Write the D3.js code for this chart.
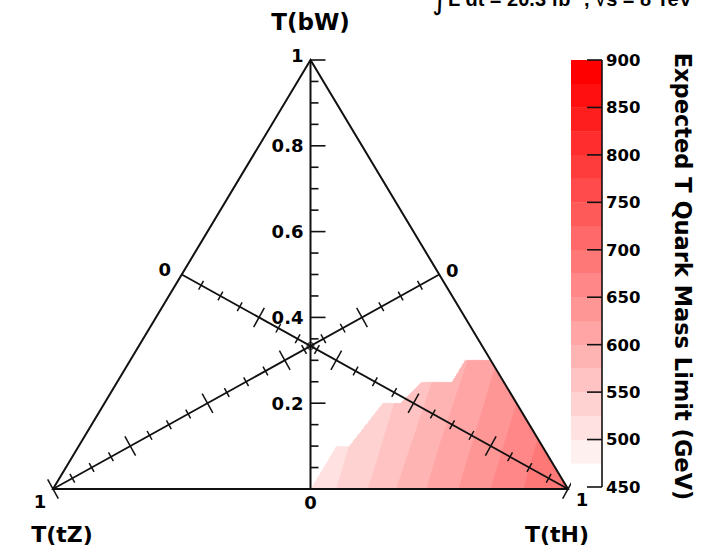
<!DOCTYPE html>
<html>
<head>
<meta charset="utf-8">
<script src="https://cdn.jsdelivr.net/npm/d3@7"></script>
<style>
  html, body { margin: 0; padding: 0; background: #fff; }
  svg { display: block; }
  text { font-family: "DejaVu Sans", sans-serif; font-weight: bold; fill: #000; }
</style>
</head>
<body>
<svg id="chart" width="708" height="552"></svg>
<script>
// Expected T-quark mass limit over the branching-fraction plane.
// Rows: BR(T->bW); columns: BR(T->tH); BR(T->tZ) = 1 - bW - tH.
const bwGrid = [0, 0.1, 0.2, 0.3];
const thGrid = [0.5, 0.6, 0.7, 0.8, 0.9, 1.0];
const limitRows = [
  [505, 545, 590, 630, 670, 705],
  [515, 555, 600, 640, 680, null],
  [525, 565, 610, 650, null, null],
  [535, 575, 620, null, null, null]
];
// Outline of the scanned region, as [BR(bW), BR(tH)] pairs
const coverage = [
  [0, 0.5], [0.1, 0.5], [0.1, 0.525], [0.2, 0.54], [0.2, 0.575],
  [0.25, 0.59], [0.25, 0.65], [0.3, 0.65], [0.3, 0.7], [0, 1]
];

const bwTicks = d3.range(1, 21).map(i => i * 0.05);       // 0.05 ... 1
const bwMajorLabels = ["0", "0.2", "0.4", "0.6", "0.8", "1"];
const diagTicks = d3.range(1, 21).map(i => i * 0.05);
const zTicks = [450, 500, 550, 600, 650, 700, 750, 800, 850, 900];
const zLevels = d3.range(450, 900, 25);                    // colour bands
const titleBW = "T(bW)", titleTZ = "T(tZ)", titleTH = "T(tH)";
const zTitle = "Expected T Quark Mass Limit (GeV)";
const lumiText = "L dt = 20.3 fb\u207B\u00B9, \u221As = 8 TeV";

const svg = d3.select("#chart");

// Ternary layout: bW sets the height, (tH - tZ) the horizontal position
const y = d3.scaleLinear().domain([0, 1]).range([489, 60]);
const x = d3.scaleLinear().domain([-1, 1]).range([53, 568]);
const proj = (bW, tH) => { const tZ = 1 - bW - tH; return [x(tH - tZ), y(bW)]; };

const z = d3.scaleLinear().domain([450, 900]).range([487, 60]);
const bandColor = v => d3.interpolateRgb("#ffffff", "#ff0000")((v - 450) / (875 - 450));

// ---- limit surface (linear interpolation on the ternary grid) ----
const dBW = bwGrid[1] - bwGrid[0], dTH = thGrid[1] - thGrid[0];
function gridVal(i, j) {
  const r = limitRows[i];
  if (!r) return NaN;
  const v = r[j];
  return (v === null || v === undefined) ? NaN : v;
}
function limitAt(bW, tH) {
  const a = (bW - bwGrid[0]) / dBW, b = (tH - thGrid[0]) / dTH;
  const i = Math.max(0, Math.min(bwGrid.length - 2, Math.floor(a)));
  const j = Math.max(0, Math.min(thGrid.length - 2, Math.floor(b)));
  const fa = a - i, fb = b - j;
  if (fa + fb <= 1) {
    const v0 = gridVal(i, j);
    return v0 + fa * (gridVal(i + 1, j) - v0) + fb * (gridVal(i, j + 1) - v0);
  }
  const v3 = gridVal(i + 1, j + 1);
  return v3 + (1 - fa) * (gridVal(i, j + 1) - v3) + (1 - fb) * (gridVal(i + 1, j) - v3);
}

const gx0 = Math.floor(x(-1)), gx1 = Math.ceil(x(1));
const gy0 = Math.floor(y(1)), gy1 = Math.ceil(y(0));
const W = gx1 - gx0, H = gy1 - gy0;
const values = new Float64Array(W * H);
for (let r = 0; r < H; r++) {
  for (let c = 0; c < W; c++) {
    const px = gx0 + c + 0.5, py = gy0 + r + 0.5;
    const bW = y.invert(py);
    const d = x.invert(px);
    const tH = (1 - bW + d) / 2, tZ = 1 - bW - tH;
    let v = -1;
    if (bW >= 0 && tH >= 0 && tZ >= 0 && d3.polygonContains(coverage, [bW, tH])) {
      const lv = limitAt(bW, tH);
      if (!isNaN(lv)) v = lv;
    }
    values[r * W + c] = v;
  }
}
const bands = d3.contours().size([W, H]).thresholds(zLevels)(values);
svg.append("g")
  .attr("transform", `translate(${gx0},${gy0})`)
  .selectAll("path").data(bands).join("path")
  .attr("d", d3.geoPath())
  .attr("fill", d => bandColor(d.value))
  .attr("stroke", d => bandColor(d.value))
  .attr("stroke-width", 0.4);

// ---- triangle frame ----
const A = proj(1, 0), B = proj(0, 0), C = proj(0, 1);
svg.append("path")
  .attr("d", d3.line()([A, B, C, A]) + "Z")
  .attr("fill", "none").attr("stroke", "#111").attr("stroke-width", 2)
  .attr("stroke-linejoin", "miter");

// ---- bW axis (vertical) ----
const axX = x(0);
svg.append("line").attr("x1", axX).attr("x2", axX).attr("y1", y(0)).attr("y2", y(1))
  .attr("stroke", "#111").attr("stroke-width", 2);
svg.append("g").selectAll("line").data(bwTicks).join("line")
  .attr("x1", axX).attr("y1", d => y(d)).attr("y2", d => y(d))
  .attr("x2", (d, i) => axX + ((i + 1) % 4 === 0 ? 15 : 8))
  .attr("stroke", "#111").attr("stroke-width", 1.6);
bwMajorLabels.forEach((lab, k) => {
  const v = k * 0.2;
  if (k === 0) {
    svg.append("text").attr("x", axX).attr("y", y(0) + 14).attr("dy", "0.35em")
      .attr("text-anchor", "middle").attr("font-size", 18).text(lab);
  } else {
    svg.append("text").attr("x", axX - 7).attr("y", y(v) - (k === 5 ? 4 : 0)).attr("dy", "0.36em")
      .attr("text-anchor", "end").attr("font-size", 18).text(lab);
  }
});

// ---- tH and tZ axes (medians) with ticks ----
function medianAxis(p0, p1) {
  const g = svg.append("g");
  g.append("line").attr("x1", p0[0]).attr("y1", p0[1]).attr("x2", p1[0]).attr("y2", p1[1])
    .attr("stroke", "#111").attr("stroke-width", 1.8);
  const dx = p1[0] - p0[0], dy = p1[1] - p0[1], len = Math.hypot(dx, dy);
  const nx = -dy / len, ny = dx / len;
  g.selectAll("line.tk").data(diagTicks).join("line").attr("class", "tk")
    .each(function (t, i) {
      const half = (i + 1) % 4 === 0 ? 11 : 5;
      const cx = p0[0] + t * dx, cy = p0[1] + t * dy;
      d3.select(this)
        .attr("x1", cx - nx * half).attr("y1", cy - ny * half)
        .attr("x2", cx + nx * half).attr("y2", cy + ny * half);
    })
    .attr("stroke", "#111").attr("stroke-width", 1.5);
}
const thStart = proj(0.5, 0), thEnd = proj(0, 1);     // tH: 0 -> 1
const tzStart = proj(0.5, 0.5), tzEnd = proj(0, 0);   // tZ: 0 -> 1
medianAxis(thStart, thEnd);
medianAxis(tzStart, tzEnd);

// centre marker
const ctr = proj(1 / 3, 1 / 3);
svg.append("circle").attr("cx", ctr[0]).attr("cy", ctr[1]).attr("r", 3.5)
  .attr("fill", "none").attr("stroke", "#111").attr("stroke-width", 1);
svg.append("circle").attr("cx", ctr[0]).attr("cy", ctr[1]).attr("r", 1.6).attr("fill", "#111");

// end labels of the median axes
const endLabels = [
  { p: thStart, dx: -17, dy: -5, t: "0" },
  { p: tzStart, dx: 13, dy: -4, t: "0" },
  { p: tzEnd, dx: -13, dy: 13, t: "1" },
  { p: thEnd, dx: 14, dy: 11, t: "1" }
];
svg.append("g").selectAll("text").data(endLabels).join("text")
  .attr("x", d => d.p[0] + d.dx).attr("y", d => d.p[1] + d.dy).attr("dy", "0.36em")
  .attr("text-anchor", "middle").attr("font-size", 18).text(d => d.t);

// axis titles
svg.append("text").attr("x", A[0]).attr("y", 30).attr("text-anchor", "middle")
  .attr("font-size", 23).text(titleBW);
svg.append("text").attr("x", B[0] + 9).attr("y", 542).attr("text-anchor", "middle")
  .attr("font-size", 22).text(titleTZ);
svg.append("text").attr("x", C[0] - 11).attr("y", 542).attr("text-anchor", "middle")
  .attr("font-size", 22).text(titleTH);

// ---- colour bar ----
const cbX = 571, cbW = 31;
svg.append("g").selectAll("rect").data(zLevels).join("rect")
  .attr("x", cbX).attr("width", cbW)
  .attr("y", d => z(d + 25)).attr("height", d => z(d) - z(d + 25) + 0.3)
  .attr("fill", d => bandColor(d));
const cbAxX = cbX + cbW;
svg.append("line").attr("x1", cbAxX).attr("x2", cbAxX).attr("y1", z(450)).attr("y2", z(900))
  .attr("stroke", "#111").attr("stroke-width", 1.6);
svg.append("g").selectAll("line").data(zTicks).join("line")
  .attr("x1", cbAxX - 15).attr("x2", cbAxX).attr("y1", d => z(d)).attr("y2", d => z(d))
  .attr("stroke", "#111").attr("stroke-width", 1.6);
svg.append("g").selectAll("text").data(zTicks).join("text")
  .attr("x", cbAxX + 4).attr("y", d => z(d)).attr("dy", "0.36em")
  .attr("font-size", 16.5).text(d => d);
svg.append("text").attr("transform", `translate(683,${(z(450) + z(900)) / 2 + 3}) rotate(90)`)
  .attr("text-anchor", "middle").attr("dy", "0.35em").attr("font-size", 22.5).text(zTitle);

// ---- luminosity label along the top edge ----
svg.append("text").attr("x", 432).attr("y", 9)
  .style("font-family", "'DejaVu Sans', sans-serif").style("font-weight", "normal")
  .attr("font-size", 30).text("\u222B");
svg.append("text").attr("x", 448).attr("y", 6)
  .style("font-family", "'Liberation Sans', Arial, sans-serif")
  .attr("font-size", 20).text(lumiText);
</script>
</body>
</html>
